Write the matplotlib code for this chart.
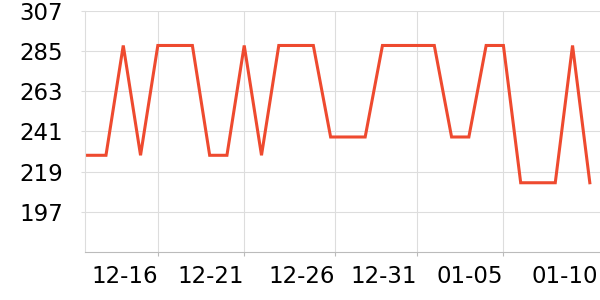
import matplotlib.pyplot as plt
import numpy as np

# daily values, starting 12-11 (first point falls just left of the plot area)
day = np.arange(-1, 30)
values = [228, 228, 228, 288, 228, 288, 288, 288, 228, 228,
          288, 228, 288, 288, 288, 238, 238, 238, 288, 288,
          288, 288, 238, 238, 288, 288, 213, 213, 213, 288, 213]

tick_pos = [4, 9, 14.25, 19, 24]
tick_labels = ['12-16', '12-21', '12-26', '12-31', '01-05']
last_label = '01-10'
yticks = [197, 219, 241, 263, 285, 307]

plt.rcParams['font.family'] = 'DejaVu Sans'
fig = plt.figure(figsize=(6, 3), dpi=100)
ax = fig.add_axes([85.5 / 600, 47.7 / 300, 514.5 / 600, 241.6 / 300])

ax.plot(day, values, color='#ee4a2f', lw=2.2, solid_joinstyle='miter', clip_on=True)

x0 = (85.5 - 88.7) / 17.28
x1 = (600 - 88.7) / 17.28
ax.set_xlim(x0, x1)
ax.set_ylim(175, 307)

ax.set_yticks(yticks)
ax.set_yticklabels([str(v) for v in yticks])
ax.set_xticks(tick_pos + [x1 - 0.1])
ax.set_xticklabels(tick_labels + [last_label], ha='right')

ax.grid(True, color='#dddddd', lw=0.8)
ax.set_axisbelow(True)
for s in ['top', 'right']:
    ax.spines[s].set_visible(False)
ax.spines['left'].set_color('#dddddd')
ax.spines['bottom'].set_color('#bbbbbb')
ax.tick_params(axis='y', length=3, color='#dddddd', pad=13, labelsize=16.5)
ax.tick_params(axis='x', length=3, color='#bbbbbb', pad=6, labelsize=16.5)
ax.xaxis.get_gridlines()[-1].set_visible(False)
ax.xaxis.get_major_ticks()[-1].tick1line.set_visible(False)

plt.savefig('out.png')
